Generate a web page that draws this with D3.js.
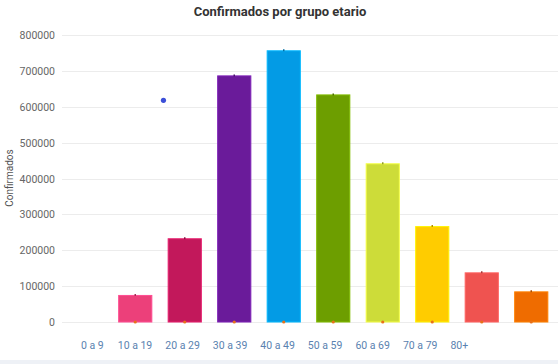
<!DOCTYPE html>
<html>
<head>
<meta charset="utf-8">
<script src="https://cdn.jsdelivr.net/npm/d3@7"></script>
<style>
  body { margin: 0; background: #fff; }
  svg { display: block; font-family: Roboto, "Noto Sans", sans-serif; }
</style>
</head>
<body>
<svg id="chart" width="558" height="364"></svg>
<script>
// data
const slots = ["s0", "s1", "s2", "s3", "s4", "s5", "s6", "s7", "s8", "s9"];
const labels = ["0 a 9", "10 a 19", "20 a 29", "30 a 39", "40 a 49", "50 a 59", "60 a 69", "70 a 79", "80+"];
const values = [0, 74000, 232000, 686000, 756000, 633000, 441000, 266000, 137000, 84000];
const colors = ["#ec407a", "#ec407a", "#c2185b", "#6a1b9a", "#039be5", "#6d9e00", "#cddc39", "#ffcc00", "#ef5350", "#ef6c00"];
const yTicks = [0, 100000, 200000, 300000, 400000, 500000, 600000, 700000, 800000];
// lone point of a second series (slot position, value)
const pointPos = [1.57];
const pointVal = [618000];

const svg = d3.select("#chart");
const W = 558, H = 364;

const x = d3.scaleBand().domain(slots).range([61, 556]).paddingInner(0.33).paddingOuter(0.165);
const y = d3.scaleLinear().domain([0, 800000]).range([322, 35]);

// bottom strip
svg.append("rect").attr("x", 0).attr("y", 360).attr("width", W).attr("height", 4).attr("fill", "#eef1f6");

// title
svg.append("text")
  .attr("x", 280).attr("y", 16)
  .attr("text-anchor", "middle")
  .attr("font-size", 13).attr("font-weight", "bold").attr("fill", "#333")
  .text("Confirmados por grupo etario");

// gridlines
svg.append("g").selectAll("line")
  .data(yTicks)
  .join("line")
  .attr("x1", 62).attr("x2", W)
  .attr("y1", d => Math.round(y(d)) + 0.5).attr("y2", d => Math.round(y(d)) + 0.5)
  .attr("stroke", "#ececec").attr("stroke-width", 1);

// y tick labels
svg.append("g").selectAll("text")
  .data(yTicks)
  .join("text")
  .attr("x", 55).attr("y", d => y(d) + 4)
  .attr("text-anchor", "end")
  .attr("font-size", 10.5).attr("fill", "#666")
  .text(d => d);

// y axis title
svg.append("text")
  .attr("transform", "translate(13,178) rotate(-90)")
  .attr("text-anchor", "middle")
  .attr("font-size", 10).attr("fill", "#555")
  .text("Confirmados");

const data = slots.map((s, i) => ({ slot: s, value: values[i], color: colors[i] })).filter(d => d.value > 0);

// bars
svg.append("g").selectAll("rect")
  .data(data)
  .join("rect")
  .attr("x", d => x(d.slot))
  .attr("y", d => y(d.value))
  .attr("width", x.bandwidth())
  .attr("height", d => y(0) - y(d.value))
  .attr("fill", d => d.color)
  .attr("stroke", d => d3.color(d.color).brighter(0.5))
  .attr("stroke-width", 1);

// small marks at bar tops
svg.append("g").selectAll("line")
  .data(data)
  .join("line")
  .attr("x1", d => x(d.slot) + x.bandwidth() / 2)
  .attr("x2", d => x(d.slot) + x.bandwidth() / 2)
  .attr("y1", d => y(d.value) - 1.5)
  .attr("y2", d => y(d.value) + 0.5)
  .attr("stroke", d => d3.color(d.color).darker(1))
  .attr("stroke-width", 1.5);

// orange dots at baseline
svg.append("g").selectAll("circle")
  .data(data)
  .join("circle")
  .attr("cx", d => x(d.slot) + x.bandwidth() / 2)
  .attr("cy", y(0))
  .attr("r", 1.6)
  .attr("fill", "#e8711a");

// lone blue point
svg.append("g").selectAll("circle")
  .data(pointPos.map((p, i) => ({ p, v: pointVal[i] })))
  .join("circle")
  .attr("cx", d => x(slots[0]) + x.bandwidth() / 2 + d.p * x.step())
  .attr("cy", d => y(d.v))
  .attr("r", 2.6)
  .attr("fill", "#3b4fd8");

// category labels laid out one after another
const lab = svg.append("g").attr("font-size", 10.5).attr("fill", "#5a82b0");
let cx = 81;
labels.forEach((t, i) => {
  const el = lab.append("text").attr("x", cx).attr("y", 349).text(t);
  cx += el.node().getComputedTextLength() + (i === 0 ? 14 : 13);
});
</script>
</body>
</html>
